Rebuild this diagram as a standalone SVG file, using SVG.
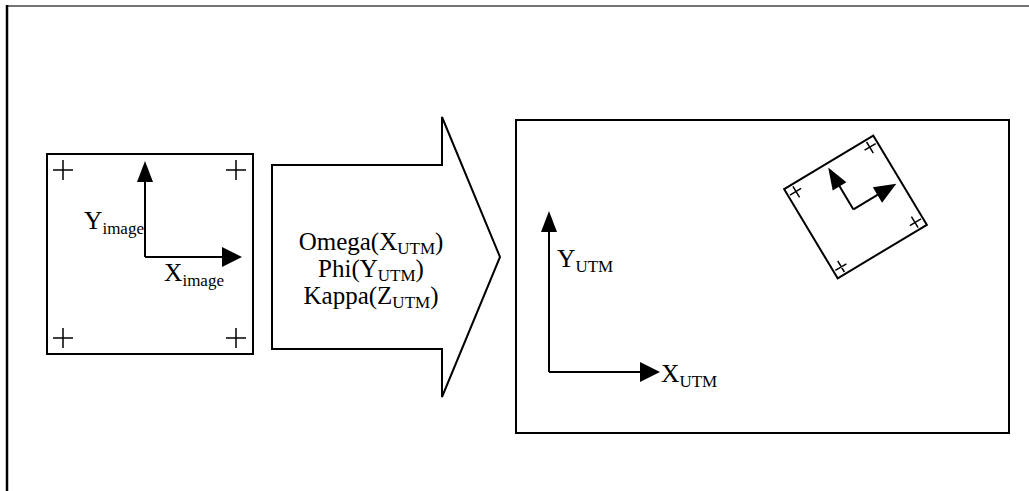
<svg xmlns="http://www.w3.org/2000/svg" width="1029" height="491" viewBox="0 0 1029 491">
  <style>
    .box { fill: #fff; stroke: #000; stroke-width: 2; }
    .thin { fill: none; stroke: #000; stroke-width: 1.5; }
    .axis { fill: none; stroke: #000; stroke-width: 2; }
    .head { fill: #000; stroke: none; }
    .lbl { font-family: "Liberation Serif", "DejaVu Serif", "Times New Roman", serif; font-size: 25.5px; fill: #000; }
    .rot { font-size: 25px; }
    .sub { font-size: 17px; }
  </style>

  <!-- page border -->
  <g id="page-border">
    <line x1="6" y1="6" x2="1029" y2="6" stroke="#444" stroke-width="1.5"/>
    <line x1="7" y1="5" x2="7" y2="491" stroke="#000" stroke-width="2.5"/>
  </g>

  <!-- image frame with fiducial marks and image axes -->
  <g id="image-frame">
    <rect class="box" x="47" y="154" width="206" height="200"/>
    <path class="thin" d="M53 170h20M63 160v20 M226 170h20M236 160v20 M53 338h20M63 328v20 M226 338h20M236 328v20"/>
    <path class="axis" d="M145 257V180 M145 257H222"/>
    <polygon class="head" points="145,161 137,182 153,182"/>
    <polygon class="head" points="242,257 222,247 222,267"/>
    <text class="lbl" x="84" y="229">Y<tspan class="sub" dy="5">image</tspan></text>
    <text class="lbl" x="164" y="281">X<tspan class="sub" dy="5">image</tspan></text>
  </g>

  <!-- rotation block arrow -->
  <g id="rotation-arrow">
    <polygon class="box" points="272,165 442,165 442,117 500,257 442,397 442,349 272,349"/>
    <text class="lbl rot" x="371" y="250" text-anchor="middle">Omega(X<tspan class="sub" dy="4">UTM</tspan><tspan dy="-4">)</tspan></text>
    <text class="lbl rot" x="371" y="277" text-anchor="middle">Phi(Y<tspan class="sub" dy="4">UTM</tspan><tspan dy="-4">)</tspan></text>
    <text class="lbl rot" x="371" y="304" text-anchor="middle">Kappa(Z<tspan class="sub" dy="4">UTM</tspan><tspan dy="-4">)</tspan></text>
  </g>

  <!-- UTM map frame -->
  <g id="utm-frame">
    <rect class="box" x="516" y="120" width="493" height="313"/>
    <path class="axis" d="M549 372V232 M549 372H640"/>
    <polygon class="head" points="549,211 541,232 557,232"/>
    <polygon class="head" points="660,372 640,362 640,382"/>
    <text class="lbl" x="557" y="267">Y<tspan class="sub" dy="5">UTM</tspan></text>
    <text class="lbl" x="661" y="382">X<tspan class="sub" dy="5">UTM</tspan></text>
  </g>

  <!-- image footprint rotated into the UTM frame -->
  <g id="rotated-image" transform="translate(855.5 207) rotate(-31)">
    <rect class="box" x="-52" y="-52" width="104" height="104"/>
    <path class="thin" d="M-50 -44h13M-43 -50v13 M37 -44h13M43 -50v13 M-50 44h13M-43 37v13 M37 44h13M43 37v13"/>
    <path class="axis" d="M-3 1V-28 M-3 1H26"/>
    <polygon class="head" points="-3,-48 -11,-26 5,-26"/>
    <polygon class="head" points="47,1 25,-8 25,10"/>
  </g>
</svg>
